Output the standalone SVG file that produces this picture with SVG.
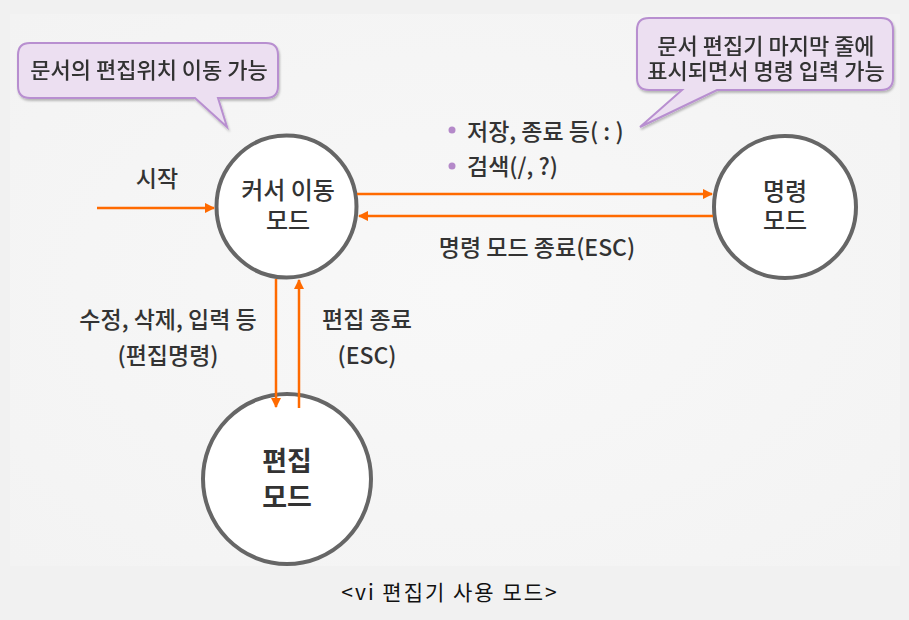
<svg xmlns="http://www.w3.org/2000/svg" width="909" height="620" viewBox="0 0 909 620">
<defs>
  <marker id="ah" viewBox="0 0 10 10" refX="9" refY="5" markerWidth="4.2" markerHeight="4.2" orient="auto" markerUnits="strokeWidth">
    <path d="M0,0 L10,5 L0,10 z" fill="#ff6a00"/>
  </marker>
  <radialGradient id="bg" cx="0.5" cy="0.5" r="0.7">
    <stop offset="0" stop-color="#f8f8f8"/>
    <stop offset="1" stop-color="#f3f3f3"/>
  </radialGradient>
  <filter id="sh" x="-10%" y="-10%" width="120%" height="130%">
    <feDropShadow dx="1" dy="2" stdDeviation="1.2" flood-color="#000" flood-opacity="0.25"/>
  </filter>
</defs>
<style>
  text { font-family: "Noto Sans CJK KR", "Noto Sans", sans-serif; fill: #333333; font-weight: 500; }
  .t { font-size: 23px; text-anchor: middle; }
  .c { font-size: 24px; text-anchor: middle; }
  .node { fill: #ffffff; stroke: #666666; stroke-width: 4; }
  .conn { stroke: #ff6a00; stroke-width: 2.5; fill: none; marker-end: url(#ah); }
  .bubble { fill: #ecdff1; stroke: #b88fd0; stroke-width: 2; }
  .big { font-size: 27px; font-weight: bold; text-anchor: middle; }
  .bullet { fill: #b489c9; }
</style>
<rect width="909" height="620" fill="#f1f1f1"/>
<rect x="10" y="14" width="890" height="552" fill="url(#bg)"/>

<g id="callout-left" filter="url(#sh)">
  <path class="bubble" d="M30,43 H266 Q278,43 278,55 V86 Q278,98 266,98 H218 L227,127 L195,98 H30 Q18,98 18,86 V55 Q18,43 30,43 Z"/>
  <text class="t" x="149" y="78" style="font-size:22px">문서의 편집위치 이동 가능</text>
</g>

<g id="callout-right" filter="url(#sh)">
  <path class="bubble" d="M649,18 H881 Q893,18 893,30 V78 Q893,90 881,90 H717 L640,127 L682,90 H649 Q637,90 637,78 V30 Q637,18 649,18 Z"/>
  <text class="t" x="766" y="54" style="font-size:22px">문서 편집기 마지막 줄에</text>
  <text class="t" x="766" y="79" style="font-size:22px">표시되면서 명령 입력 가능</text>
</g>

<g id="node-cursor">
  <ellipse class="node" cx="286.5" cy="206.5" rx="70" ry="71"/>
  <text class="c" x="288" y="199">커서 이동</text>
  <text class="c" x="288" y="229">모드</text>
</g>

<g id="node-command">
  <ellipse class="node" cx="785" cy="207" rx="71" ry="71"/>
  <text class="c" x="785" y="200">명령</text>
  <text class="c" x="785" y="229">모드</text>
</g>

<g id="node-edit">
  <ellipse class="node" cx="287" cy="479" rx="84" ry="85"/>
  <text class="big" x="287" y="471">편집</text>
  <text class="big" x="287" y="507">모드</text>
</g>

<g id="connectors">
  <line class="conn" x1="97" y1="208" x2="214" y2="208"/>
  <line class="conn" x1="357" y1="194" x2="712" y2="194"/>
  <line class="conn" x1="713" y1="216" x2="359" y2="216"/>
  <line class="conn" x1="276" y1="279" x2="276" y2="407"/>
  <line class="conn" x1="299" y1="408" x2="299" y2="280"/>
</g>

<g id="labels">
  <text class="t" x="157" y="187">시작</text>
  <circle class="bullet" cx="452" cy="130" r="3.5"/>
  <text x="467" y="140" style="font-size:23px">저장, 종료 등( : )</text>
  <circle class="bullet" cx="452" cy="166" r="3.5"/>
  <text x="467" y="175" style="font-size:23px">검색(/, ?)</text>
  <text class="t" x="537" y="256">명령 모드 종료(ESC)</text>
  <text class="t" x="168" y="328">수정, 삭제, 입력 등</text>
  <text class="t" x="168" y="364">(편집명령)</text>
  <text class="t" x="367" y="328">편집 종료</text>
  <text class="t" x="367" y="364">(ESC)</text>
</g>

<text x="450" y="600" style="font-size:21px; font-weight:normal; letter-spacing:2px; fill:#111111; text-anchor:middle">&lt;vi 편집기 사용 모드&gt;</text>
</svg>
